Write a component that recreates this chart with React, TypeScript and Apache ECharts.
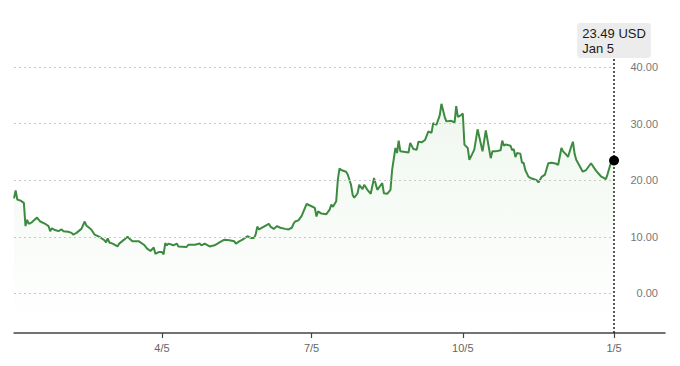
import React, { useEffect, useRef } from "react";
import * as echarts from "echarts";

const DAY = 86400000;
const START = new Date(2023, 0, 5).getTime();
const AXIS_END_DAY = 396;

// day offsets from Jan 5 and closing prices (USD)
const dayOffsets = [
  0, 1, 2, 4, 6, 7, 8, 9, 11, 14, 16, 19, 21, 22, 23, 25, 27, 29, 30, 33, 35, 36, 38, 41, 43, 44, 47, 49,
  52, 55, 56, 57, 58, 60, 63, 64, 67, 69, 72, 73, 76, 79, 81, 83, 85, 86, 88, 90, 91, 92, 93, 94, 97, 99,
  100, 105, 106, 110, 113, 114, 116, 119, 122, 125, 128, 131, 134, 135, 137, 139, 142, 144, 146, 147, 148,
  149, 152, 155, 156, 158, 160, 162, 165, 167, 169, 170, 171, 173, 175, 178, 181, 183, 184, 185, 187, 190,
  192, 193, 194, 196, 197, 198, 199, 202, 203, 205, 206, 207, 209, 210, 212, 213, 215, 217, 219, 221, 224,
  225, 227, 229, 230, 232, 233, 234, 235, 240, 241, 243, 245, 246, 248, 250, 252, 254, 255, 257, 259, 260,
  262, 263, 266, 268, 269, 270, 272, 273, 274, 276, 277, 280, 282, 285, 287, 290, 291, 293, 296, 297, 298,
  299, 302, 303, 304, 305, 306, 308, 309, 310, 311, 313, 315, 318, 319, 320, 321, 323, 325, 327, 330, 331,
  333, 334, 336, 337, 339, 340, 341, 342, 346, 348, 351, 354, 357, 360, 361, 363, 365,
];
const prices = [
  16.8, 18.2, 16.6, 16.4, 16.0, 11.9, 13.0, 12.3, 12.6, 13.4, 12.7, 12.3, 11.9, 11.0, 11.5, 11.2, 11.0, 11.3,
  11.0, 10.9, 10.7, 10.4, 10.7, 11.4, 12.7, 12.0, 11.3, 10.4, 10.0, 9.4, 9.0, 9.7, 9.0, 8.8, 8.3, 8.8, 9.5,
  10.0, 9.2, 9.2, 9.2, 8.6, 7.9, 7.5, 8.1, 7.0, 7.3, 7.3, 6.9, 8.9, 8.5, 8.8, 8.5, 8.8, 8.3, 8.2, 8.6, 8.6,
  8.8, 8.5, 8.8, 8.3, 8.5, 9.0, 9.5, 9.4, 9.2, 8.8, 9.2, 9.5, 10.1, 9.8, 9.8, 10.4, 11.8, 11.3, 11.8, 12.3,
  11.8, 11.4, 11.9, 11.6, 11.4, 11.3, 11.6, 12.3, 12.7, 12.9, 13.7, 15.8, 15.4, 15.1, 13.6, 14.5, 14.1, 14.0,
  14.8, 15.7, 15.3, 16.3, 20.1, 22.1, 21.8, 21.5, 21.0, 19.2, 17.4, 16.9, 17.7, 19.2, 18.4, 19.2, 18.3, 17.6,
  20.4, 18.3, 19.5, 17.7, 17.6, 18.3, 21.8, 25.7, 24.8, 27.0, 25.1, 24.9, 26.6, 25.5, 25.4, 26.8, 26.7, 27.1,
  28.6, 28.4, 30.1, 29.8, 31.5, 33.5, 31.2, 30.4, 30.5, 30.2, 33.1, 31.2, 31.5, 31.8, 26.3, 25.7, 23.6, 25.4,
  29.0, 25.1, 28.8, 23.9, 25.1, 25.1, 25.3, 27.0, 26.1, 26.3, 26.1, 25.3, 25.5, 24.1, 24.8, 24.7, 23.1, 23.1,
  21.8, 20.6, 20.3, 20.0, 19.6, 20.1, 20.6, 21.0, 23.0, 23.1, 22.9, 22.7, 25.7, 25.1, 24.5, 24.1, 26.0, 26.8,
  24.7, 23.6, 21.5, 21.8, 23.0, 21.7, 20.7, 20.2, 21.0, 23.0, 23.49,
];
const tickDates = [
  [2023, 3, 5],
  [2023, 6, 5],
  [2023, 9, 5],
  [2024, 0, 5],
];
const gridLevels = [0, 10, 20, 30, 40];
const Y_MIN = -7;
const Y_MAX = 41.6;
const lastLabelValue = "23.49 USD";
const lastLabelDate = "Jan 5";

const FONT = "'Liberation Sans', Arial, Helvetica, sans-serif";

const dayOf = (y: number, m: number, d: number) =>
  Math.round((new Date(y, m, d).getTime() - START) / DAY);

export default function App() {
  const ref = useRef<HTMLDivElement>(null);

  useEffect(() => {
    if (!ref.current) return;
    const chart = echarts.init(ref.current, undefined, { renderer: "svg" });
    const data = dayOffsets.map((d, i) => [d, prices[i]]);
    const first = data[0][0];
    const last = data[data.length - 1];
    const tickValues = tickDates.map(([y, m, d]) => dayOf(y, m, d));

    chart.setOption({
      animation: false,
      grid: { left: 14, right: 15, top: 58, bottom: 33 },
      xAxis: {
        type: "value",
        min: 0,
        max: AXIS_END_DAY,
        axisLine: { show: true, onZero: false, lineStyle: { color: "#444", width: 1.5 } },
        axisTick: {
          show: true,
          customValues: tickValues,
          length: 5,
          lineStyle: { color: "#444", width: 1.2 },
        },
        axisLabel: {
          customValues: tickValues,
          margin: 9,
          color: "#666",
          fontSize: 11,
          fontFamily: FONT,
          formatter: (v: number) => {
            const d = new Date(START + v * DAY);
            return `${d.getMonth() + 1}/${d.getDate()}`;
          },
        },
        splitLine: { show: false },
      },
      yAxis: {
        type: "value",
        position: "right",
        min: Y_MIN,
        max: Y_MAX,
        splitNumber: 5,
        axisLine: { show: false },
        axisTick: { show: false },
        splitLine: { show: false },
        axisLabel: {
          inside: true,
          margin: 7,
          color: "#777",
          fontSize: 11,
          fontFamily: FONT,
          showMinLabel: false,
          showMaxLabel: false,
          formatter: (v: number) => (gridLevels.includes(v) ? v.toFixed(2) : ""),
        },
      },
      series: [
        {
          type: "line",
          data,
          showSymbol: false,
          symbol: "none",
          lineStyle: { color: "#3d8b40", width: 2 },
          itemStyle: { color: "#3d8b40" },
          areaStyle: {
            origin: "start",
            color: new echarts.graphic.LinearGradient(0, 0, 0, 1, [
              { offset: 0, color: "rgba(90,170,80,0.13)" },
              { offset: 1, color: "rgba(90,170,80,0)" },
            ]),
          },
          markLine: {
            silent: true,
            symbol: "none",
            label: { show: false },
            lineStyle: { color: "#c8c8c8", type: [2, 3], width: 1 },
            data: gridLevels.map((lv) => [{ coord: [first, lv] }, { coord: [last[0], lv] }]),
          },
          z: 3,
        },
        {
          type: "scatter",
          data: [last],
          symbol: "circle",
          symbolSize: 10,
          itemStyle: { color: "#000", opacity: 1 },
          z: 5,
          markLine: {
            silent: true,
            symbol: "none",
            lineStyle: { color: "#222", type: [2, 2], width: 1.5 },
            label: {
              show: true,
              position: "end",
              distance: 0,
              formatter: `{a|${lastLabelValue}}\n{b|${lastLabelDate}}`,
              backgroundColor: "#ececec",
              borderRadius: 3,
              padding: [3, 5, 2, 5],
              rich: {
                a: { fontSize: 13, color: "#1a1a1a", fontFamily: FONT, lineHeight: 15, align: "left" },
                b: { fontSize: 13, color: "#1a1a1a", fontFamily: FONT, lineHeight: 15, align: "left" },
              },
            },
            data: [[{ coord: [last[0], Y_MIN] }, { coord: [last[0], Y_MAX] }]],
          },
        },
      ],
    });

    return () => chart.dispose();
  }, []);

  return <div ref={ref} style={{ width: 680, height: 366, margin: -8 }} />;
}
